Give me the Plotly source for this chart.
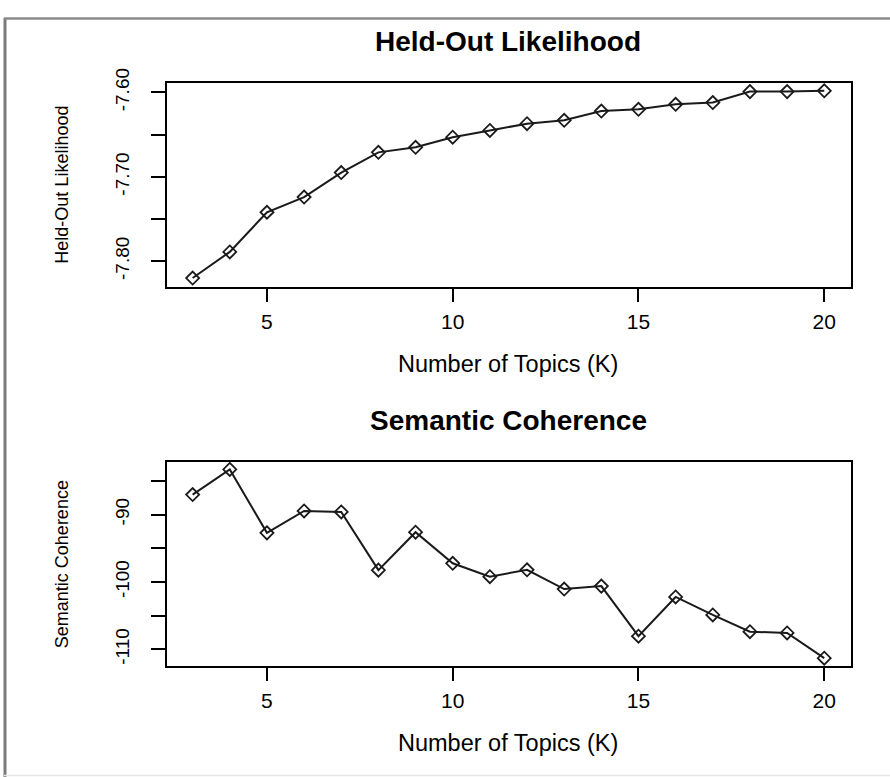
import plotly.graph_objects as go

W, H = 890, 777

topics = list(range(3, 21))
heldout = [-7.820, -7.789, -7.742, -7.724, -7.695, -7.671, -7.665, -7.653, -7.645,
           -7.637, -7.633, -7.622, -7.620, -7.614, -7.612, -7.599, -7.599, -7.598]
semcoh = [-87.04, -83.30, -92.72, -89.47, -89.61, -98.25, -92.62, -97.23, -99.22,
          -98.20, -101.06, -100.62, -108.05, -102.23, -104.90, -107.38, -107.57, -111.31]

x_tickvals = [5, 10, 15, 20]
y1_tickvals = [-7.60, -7.65, -7.70, -7.75, -7.80]
y1_ticktext = ["-7.60", "", "-7.70", "", "-7.80"]
y2_tickvals = [-85, -90, -95, -100, -105, -110]
y2_ticktext = ["", "-90", "", "-100", "", "-110"]

FONT = "Liberation Sans, Arial, Helvetica, sans-serif"

def px_x(p):
    return p / W

def px_y(p):
    return 1 - p / H

fig = go.Figure()
line_style = dict(color="#1a1a1a", width=2)
marker_style = dict(symbol="diamond-open", size=10, color="#1a1a1a", line=dict(width=1.8))

fig.add_trace(go.Scatter(x=topics, y=heldout, mode="lines+markers", line=line_style,
                         marker=marker_style, xaxis="x", yaxis="y", showlegend=False))
fig.add_trace(go.Scatter(x=topics, y=semcoh, mode="lines+markers", line=line_style,
                         marker=marker_style, xaxis="x2", yaxis="y2", showlegend=False))

xdom = [px_x(167), px_x(851)]
common_x = dict(range=[2.31, 20.72], tickvals=x_tickvals, ticks="outside", ticklen=13,
                tickwidth=2, tickcolor="black", showline=True, linewidth=2, linecolor="black",
                mirror=True, showgrid=False, zeroline=False, domain=xdom,
                tickfont=dict(family=FONT, size=21, color="black"), ticklabelstandoff=2)
common_y = dict(ticks="outside", ticklen=14, tickwidth=2, tickcolor="black", showline=True,
                linewidth=2, linecolor="black", mirror=True, showgrid=False, zeroline=False,
                tickangle=-90, tickfont=dict(family=FONT, size=19, color="black"),
                ticklabelstandoff=14)

fig.update_layout(
    width=W, height=H, margin=dict(l=0, r=0, t=0, b=0),
    paper_bgcolor="white", plot_bgcolor="white",
    xaxis=dict(anchor="y", **common_x),
    yaxis=dict(anchor="x", range=[-7.8302, -7.5884], tickvals=y1_tickvals,
               ticktext=y1_ticktext, domain=[px_y(277), px_y(69)], **common_y),
    xaxis2=dict(anchor="y2", **common_x),
    yaxis2=dict(anchor="x2", range=[-112.5, -82.19], tickvals=y2_tickvals,
                ticktext=y2_ticktext, domain=[px_y(664), px_y(455.7)], **common_y),
)

annotations = [
    dict(text="<b>Held-Out Likelihood</b>", x=px_x(508), y=px_y(27), size=28),
    dict(text="<b>Semantic Coherence</b>", x=px_x(508), y=px_y(413), size=28),
    dict(text="Number of Topics (K)", x=px_x(508), y=px_y(356), size=23.5),
    dict(text="Number of Topics (K)", x=px_x(508), y=px_y(742), size=23.5),
]
for a in annotations:
    fig.add_annotation(text=a["text"], x=a["x"], y=a["y"], xref="paper", yref="paper",
                       showarrow=False, xanchor="center", yanchor="middle",
                       font=dict(family=FONT, size=a["size"], color="black"))
for txt, yc in [("Held-Out Likelihood", 173), ("Semantic Coherence", 560)]:
    fig.add_annotation(text=txt, x=px_x(62), y=px_y(yc), xref="paper", yref="paper",
                       showarrow=False, textangle=-90, xanchor="center", yanchor="middle",
                       font=dict(family=FONT, size=18, color="black"))

# outer frame of the original image
fig.add_shape(type="line", xref="paper", yref="paper", x0=px_x(5), x1=px_x(5),
              y0=px_y(3), y1=px_y(777), line=dict(color="#7a7a7a", width=3))
fig.add_shape(type="line", xref="paper", yref="paper", x0=px_x(4), x1=1,
              y0=px_y(3.5), y1=px_y(3.5), line=dict(color="#8a8a8a", width=2.5))
fig.add_shape(type="line", xref="paper", yref="paper", x0=px_x(4), x1=1,
              y0=px_y(775.5), y1=px_y(775.5), line=dict(color="#e6e6e6", width=1.5))

fig.write_html("out.html")
